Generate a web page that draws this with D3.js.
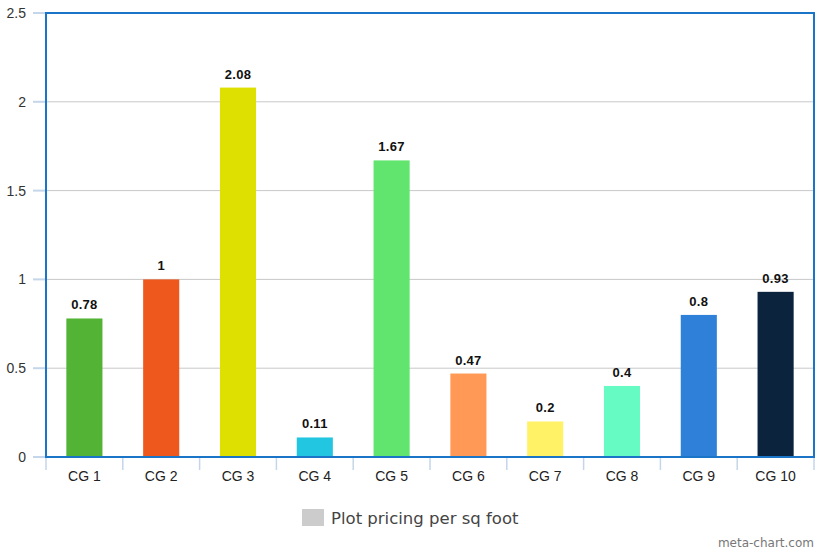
<!DOCTYPE html>
<html>
<head>
<meta charset="utf-8">
<script src="https://cdnjs.cloudflare.com/ajax/libs/d3/7.8.5/d3.min.js"></script>
<style>
  body { margin: 0; background: #fff; }
  svg { display: block; font-family: "Liberation Sans", Arial, Helvetica, sans-serif; }
</style>
</head>
<body>
<div id="chart"></div>
<script>
// data
var categories = ["CG 1", "CG 2", "CG 3", "CG 4", "CG 5", "CG 6", "CG 7", "CG 8", "CG 9", "CG 10"];
var values = [0.78, 1, 2.08, 0.11, 1.67, 0.47, 0.2, 0.4, 0.8, 0.93];
var barColors = ["#52b335", "#ee581d", "#dde000", "#22c6e0", "#62e56e", "#ff9955", "#fff266", "#66fbc3", "#2f80d8", "#0c233d"];
var yTicks = [0, 0.5, 1, 1.5, 2, 2.5];
var seriesName = "Plot pricing per sq foot";

var W = 817, H = 550;
var margin = { top: 13, right: 3, bottom: 93, left: 46 };
var width = W - margin.left - margin.right,
    height = H - margin.top - margin.bottom;

var svg = d3.select("#chart").append("svg")
    .attr("width", W)
    .attr("height", H);

var g = svg.append("g")
    .attr("transform", "translate(" + margin.left + "," + margin.top + ")");

var x = d3.scaleBand()
    .domain(categories)
    .range([0, width])
    .paddingInner(0.53)
    .paddingOuter(0.265);
var band = d3.scaleBand().domain(categories).range([0, width]);

var y = d3.scaleLinear()
    .domain([0, 2.5])
    .range([height, 0]);

// gridlines
g.append("g")
    .selectAll("line")
    .data(yTicks.filter(function(d) { return d > 0; }))
    .enter().append("line")
    .attr("x1", 0).attr("x2", width)
    .attr("y1", function(d) { return y(d); })
    .attr("y2", function(d) { return y(d); })
    .attr("stroke", "#c8c8c8")
    .attr("stroke-width", 1);

// y ticks + labels
var yAxis = g.append("g");
yAxis.selectAll("line")
    .data(yTicks)
    .enter().append("line")
    .attr("x1", -13).attr("x2", 0)
    .attr("y1", function(d) { return y(d); })
    .attr("y2", function(d) { return y(d); })
    .attr("stroke", "#c5d6ea")
    .attr("stroke-width", 2);
yAxis.selectAll("text")
    .data(yTicks)
    .enter().append("text")
    .attr("x", -20)
    .attr("y", function(d) { return y(d); })
    .attr("dy", "0.35em")
    .attr("text-anchor", "end")
    .attr("font-size", 14)
    .attr("fill", "#333")
    .text(function(d) { return d; });

// x ticks + labels
var xAxis = g.append("g").attr("transform", "translate(0," + height + ")");
var xTickPos = categories.map(function(c) { return band(c); }).concat([width]);
xAxis.selectAll("line")
    .data(xTickPos)
    .enter().append("line")
    .attr("x1", function(d) { return d; })
    .attr("x2", function(d) { return d; })
    .attr("y1", 0).attr("y2", 13)
    .attr("stroke", "#c5d6ea")
    .attr("stroke-width", 1.5);
xAxis.selectAll("text")
    .data(categories)
    .enter().append("text")
    .attr("x", function(d) { return band(d) + band.bandwidth() / 2; })
    .attr("y", 24)
    .attr("text-anchor", "middle")
    .attr("font-size", 14)
    .attr("fill", "#222")
    .text(function(d) { return d; });

// bars
g.selectAll(".bar")
    .data(values)
    .enter().append("rect")
    .attr("class", "bar")
    .attr("x", function(d, i) { return x(categories[i]); })
    .attr("y", function(d) { return y(d); })
    .attr("width", x.bandwidth())
    .attr("height", function(d) { return height - y(d); })
    .attr("fill", function(d, i) { return barColors[i]; });

// value labels
g.selectAll(".val")
    .data(values)
    .enter().append("text")
    .attr("class", "val")
    .attr("x", function(d, i) { return x(categories[i]) + x.bandwidth() / 2; })
    .attr("y", function(d) { return y(d) - 9; })
    .attr("text-anchor", "middle")
    .attr("font-size", 13)
    .attr("font-weight", "bold")
    .attr("letter-spacing", "0.3px")
    .attr("fill", "#111")
    .text(function(d) { return d; });

// plot frame
g.append("rect")
    .attr("x", 0).attr("y", 0)
    .attr("width", width).attr("height", height)
    .attr("fill", "none")
    .attr("stroke", "#1a75c8")
    .attr("stroke-width", 2);

// legend
var legend = svg.append("g").attr("transform", "translate(302,509)");
legend.append("rect")
    .attr("width", 22).attr("height", 17)
    .attr("fill", "#cccccc");
legend.append("text")
    .attr("x", 29).attr("y", 15)
    .attr("font-family", "'DejaVu Sans', Verdana, sans-serif")
    .attr("font-size", 16.5)
    .attr("fill", "#444")
    .text(seriesName);

// watermark
svg.append("text")
    .attr("x", 814).attr("y", 547)
    .attr("text-anchor", "end")
    .attr("font-family", "'DejaVu Sans', Verdana, sans-serif")
    .attr("font-size", 12)
    .attr("fill", "#777")
    .text("meta-chart.com");
</script>
</body>
</html>
